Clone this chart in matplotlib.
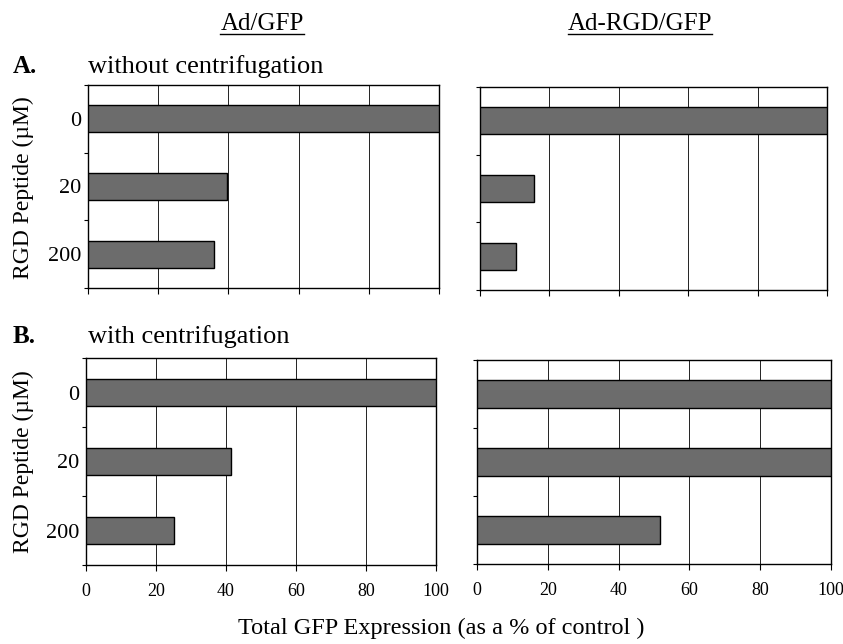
import numpy as np
import matplotlib.pyplot as plt
from matplotlib.lines import Line2D

plt.rcParams['font.family'] = ['Liberation Serif', 'DejaVu Serif']

peptide = ['0', '20', '200']
ticks_x = [0, 20, 40, 60, 80, 100]

adgfp_without = [100, 39.6, 36]
adrgd_without = [100, 15.5, 10.4]
adgfp_with = [100, 41.4, 25.2]
adrgd_with = [100, 100, 51.7]

fig = plt.figure(figsize=(8.43, 6.44), dpi=100)
W, H = 843, 644


def box(x0, y0, x1, y1):
    return [x0 / W, 1 - y1 / H, (x1 - x0) / W, (y1 - y0) / H]


panels = [
    (box(88, 85, 439, 288), adgfp_without, True, False),
    (box(480, 87, 827, 290), adrgd_without, False, False),
    (box(86, 358, 436, 565), adgfp_with, True, True),
    (box(477, 360, 831, 564), adrgd_with, False, True),
]

for rect, vals, show_y, show_x in panels:
    ax = fig.add_axes(rect)
    pos = np.arange(len(peptide))
    ax.barh(pos, vals, height=0.4, color='#6c6c6c', edgecolor='black',
            linewidth=1.0, zorder=3)
    ax.set_xlim(0, 100)
    ax.set_ylim(2.5, -0.5)
    ax.set_xticks(ticks_x)
    for g in ticks_x[1:-1]:
        ax.axvline(g, color='#222222', lw=0.7, zorder=1)
    if show_x:
        ax.set_xticklabels([str(t) for t in ticks_x], fontsize=13)
    else:
        ax.set_xticklabels([])
    ax.tick_params(axis='x', direction='out', length=4, width=0.8, pad=9)
    ax.set_yticks([-0.5, 0.5, 1.5, 2.5])
    ax.set_yticklabels([])
    ax.tick_params(axis='y', which='major', direction='out', length=3, width=0.8)
    ax.set_yticks(pos, minor=True)
    if show_y:
        ax.set_yticklabels(peptide, minor=True, fontsize=16)
    else:
        ax.set_yticklabels([], minor=True)
    ax.tick_params(axis='y', which='minor', length=0, pad=5)
    for s in ax.spines.values():
        s.set_linewidth(1.0)
        s.set_color('black')

# y labels
for cy in [188, 462]:
    fig.text(23 / W, 1 - cy / H, 'RGD Peptide (\u00b5M)', fontsize=17,
             rotation=90, ha='center', va='center')

# column headers with underline
for txt, cx in [('Ad/GFP', 262), ('Ad-RGD/GFP', 640)]:
    t = fig.text(cx / W, 1 - 30 / H, txt, fontsize=18, ha='center', va='baseline')
    fig.canvas.draw()
    bb = t.get_window_extent()
    yline = 1 - 34 / H
    fig.add_artist(Line2D([bb.x0 / W, bb.x1 / W], [yline, yline],
                          color='black', lw=1.0))

fig.text(13 / W, 1 - 73 / H, 'A.', fontsize=18, fontweight='bold', va='baseline')
fig.text(88 / W, 1 - 73 / H, 'without centrifugation', fontsize=19, va='baseline')
fig.text(13 / W, 1 - 343 / H, 'B.', fontsize=18, fontweight='bold', va='baseline')
fig.text(88 / W, 1 - 343 / H, 'with centrifugation', fontsize=19, va='baseline')

fig.text(441 / W, 1 - 634 / H, 'Total GFP Expression (as a % of control )',
         fontsize=17.5, ha='center', va='baseline')

fig.savefig('out.png', dpi=100)
